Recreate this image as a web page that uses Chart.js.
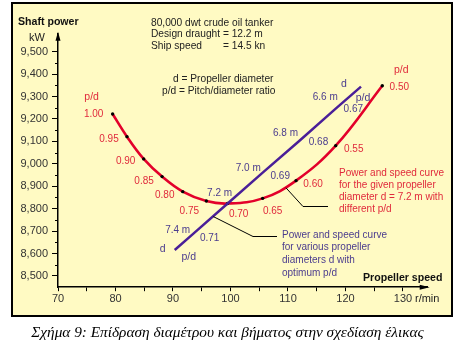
<!DOCTYPE html>
<html>
<head>
<meta charset="utf-8">
<script src="https://cdn.jsdelivr.net/npm/chart.js@4.4.1/dist/chart.umd.min.js"></script>
<style>
  body { margin: 0; width: 462px; height: 354px; background: #fff; position: relative; overflow: hidden; }
  #panel { position: absolute; left: 11px; top: 2px; width: 438px; height: 311px; border: 2px solid #000; background: #fffac3; }
  #chart { position: absolute; left: 0; top: 0; }
  #caption { position: absolute; left: 0; top: 323px; width: 455px; text-align: center;
             font: italic 15.3px "Liberation Serif", "Times New Roman", serif; color: #000; }
</style>
</head>
<body>
<div id="panel"></div>
<canvas id="chart" width="462" height="354"></canvas>
<div id="caption">Σχήμα 9: Επίδραση διαμέτρου και βήματος στην σχεδίαση έλικας</div>
<script>
// red curve: given diameter d = 7.2 m, varying p/d
const speedGivenD = [79.5, 82.0, 84.9, 88.1, 91.7, 95.8, 99.5, 105.6, 111.4, 118.3, 126.4];
const powerGivenD = [9222, 9121, 9022, 8943, 8876, 8834, 8823, 8846, 8925, 9081, 9348];
const pitchLabels = ['1.00', '0.95', '0.90', '0.85', '0.80', '0.75', '0.70', '0.65', '0.60', '0.55', '0.50'];

// blue line: various diameters with optimum p/d
const speedOptimum = [90.3, 93.6, 99.5, 105.7, 112.0, 118.4, 122.7];
const powerOptimum = [8616, 8690, 8823, 8963, 9103, 9248, 9344];
const diameterLabels = ['d', '7.4 m', '7.2 m', '7.0 m', '6.8 m', '6.6 m', 'd'];
const optPitchLabels = ['p/d', '0.71', '', '0.69', '0.68', '0.67', 'p/d'];

// axes
const xTickValues = [70, 75, 80, 85, 90, 95, 100, 105, 110, 115, 120, 125, 130];
const yTickValues = [8500, 8600, 8700, 8800, 8900, 9000, 9100, 9200, 9300, 9400, 9500];
const yMinorValues = [8550, 8650, 8750, 8850, 8950, 9050, 9150, 9250, 9350, 9450];

// label placement (pixel offsets from their point)
const pitchOffsets = [[-19, 0], [-18, 3], [-18, 2], [-18, 5], [-18, 4], [-17, 10], [11, 11], [10, 13], [17, 4], [18, 4], [17, 2]];
const diameterOffsets = [[-12, -1], [-16, -3], [-8, -10], [-15, -4], [-14, -7], [-11, -11], [-17, -3]];
const optPitchOffsets = [[14, 7], [16, 5], [0, 0], [17, 4], [19, 2], [17, 1], [2, 11]];

const RED = '#e3002b';
const RED_TEXT = '#e02a3c';
const BLUE = '#4a1f98';
const BLUE_TEXT = '#4b3c8e';
const FONT = '"Liberation Sans", Arial, sans-serif';

const overlay = {
    id: 'overlay',
    afterDraw(chart) {
        const ctx = chart.ctx;
        const x = chart.scales.x;
        const y = chart.scales.y;
        const a = chart.chartArea;
        ctx.save();

        //minor y ticks
        ctx.strokeStyle = '#000';
        ctx.lineWidth = 1;
        yMinorValues.forEach(v => {
            const py = Math.round(y.getPixelForValue(v)) + 0.5;
            ctx.beginPath();
            ctx.moveTo(a.left - 3, py);
            ctx.lineTo(a.left, py);
            ctx.stroke();
        });

        //axis arrows
        ctx.fillStyle = '#000';
        ctx.beginPath();
        ctx.moveTo(a.left, a.top - 2);
        ctx.lineTo(a.left - 2.5, a.top + 7);
        ctx.lineTo(a.left + 2.5, a.top + 7);
        ctx.fill();
        ctx.beginPath();
        ctx.moveTo(a.right + 2, a.bottom);
        ctx.lineTo(a.right - 8, a.bottom - 2.5);
        ctx.lineTo(a.right - 8, a.bottom + 2.5);
        ctx.fill();

        ctx.textBaseline = 'middle';

        //p/d labels on red curve
        const red = chart.getDatasetMeta(1).data;
        ctx.font = '10px ' + FONT;
        ctx.fillStyle = RED_TEXT;
        ctx.textAlign = 'center';
        red.forEach((pt, i) => {
            ctx.fillText(pitchLabels[i], pt.x + pitchOffsets[i][0], pt.y + pitchOffsets[i][1]);
        });
        ctx.font = '10.5px ' + FONT;
        ctx.fillText('p/d', red[0].x - 21, red[0].y - 17);
        ctx.fillText('p/d', red[10].x + 19, red[10].y - 16);

        //d and p/d labels on blue line
        const blue = chart.getDatasetMeta(0).data;
        ctx.fillStyle = BLUE_TEXT;
        blue.forEach((pt, i) => {
            ctx.font = (i === 0 || i === 6 ? '10.5px ' : '10px ') + FONT;
            ctx.fillText(diameterLabels[i], pt.x + diameterOffsets[i][0], pt.y + diameterOffsets[i][1]);
            if (optPitchLabels[i]) {
                ctx.fillText(optPitchLabels[i], pt.x + optPitchOffsets[i][0], pt.y + optPitchOffsets[i][1]);
            }
        });

        //leader lines
        ctx.strokeStyle = '#000';
        ctx.lineWidth = 1;
        const rx = x.getPixelForValue(109.65), ry = y.getPixelForValue(8893);
        ctx.beginPath();
        ctx.moveTo(rx, ry);
        ctx.lineTo(303, 206.5);
        ctx.lineTo(328, 206.5);
        ctx.stroke();
        const bx = x.getPixelForValue(97.0), by = y.getPixelForValue(8765);
        ctx.beginPath();
        ctx.moveTo(bx, by);
        ctx.lineTo(253, 236.5);
        ctx.lineTo(277, 236.5);
        ctx.stroke();

        //text blocks
        ctx.textAlign = 'left';
        ctx.font = '10px ' + FONT;
        ctx.fillStyle = RED_TEXT;
        ['Power and speed curve', 'for the given propeller', 'diameter d = 7.2 m with', 'different p/d']
            .forEach((t, i) => ctx.fillText(t, 339, 173 + i * 12.2));
        ctx.fillStyle = BLUE_TEXT;
        ['Power and speed curve', 'for various propeller', 'diameters d with', 'optimum p/d']
            .forEach((t, i) => ctx.fillText(t, 282, 235 + i * 12.6));

        ctx.fillStyle = '#222';
        ctx.font = '10.2px ' + FONT;
        ctx.fillText('80,000 dwt crude oil tanker', 151, 23);
        ctx.fillText('Design draught = 12.2 m', 151, 34.5);
        ctx.fillText('Ship speed', 151, 46.5);
        ctx.fillText('= 14.5 kn', 223, 46.5);
        ctx.fillText('d = Propeller diameter', 173, 79.5);
        ctx.fillText('p/d = Pitch/diameter ratio', 162, 91);
        ctx.font = '11px ' + FONT;
        ctx.fillText('kW', 29, 37.5);
        ctx.fillText('r/min', x.getPixelForValue(130) + 12, 298.5);

        ctx.font = 'bold 10.6px ' + FONT;
        ctx.fillStyle = '#111';
        ctx.fillText('Shaft power', 18, 22);
        ctx.fillText('Propeller speed', 363, 278);

        ctx.restore();
    }
};

new Chart(document.getElementById('chart'), {
    type: 'line',
    data: {
        datasets: [{
            label: 'Optimum p/d',
            data: speedOptimum.map((v, i) => ({ x: v, y: powerOptimum[i] })),
            borderColor: BLUE,
            borderWidth: 2.5,
            pointRadius: 0,
            tension: 0
        }, {
            label: 'd = 7.2 m',
            data: speedGivenD.map((v, i) => ({ x: v, y: powerGivenD[i] })),
            borderColor: RED,
            borderWidth: 2.6,
            pointRadius: 1.7,
            pointBorderWidth: 0,
            pointBackgroundColor: '#000',
            tension: 0.4
        }]
    },
    options: {
        responsive: false,
        animation: false,
        devicePixelRatio: 1,
        layout: { padding: { left: 0, top: 33.7, right: 34.3, bottom: 42.8 } },
        plugins: { legend: { display: false }, tooltip: { enabled: false } },
        scales: {
            x: {
                type: 'linear',
                min: 70,
                max: 134.3,
                afterBuildTicks: s => { s.ticks = xTickValues.map(v => ({ value: v })); },
                afterFit: s => { s.height = 24; },
                ticks: {
                    autoSkip: false,
                    maxRotation: 0,
                    padding: 1,
                    color: '#333',
                    font: { family: FONT, size: 11 },
                    callback: v => (v % 10 === 0 ? String(v) : '')
                },
                grid: { drawOnChartArea: false, tickLength: 4, color: '#000' },
                border: { color: '#000', width: 1.5 }
            },
            y: {
                type: 'linear',
                min: 8450,
                max: 9580,
                afterBuildTicks: s => { s.ticks = yTickValues.map(v => ({ value: v })); },
                afterFit: s => { s.width = 58; },
                ticks: {
                    padding: 4,
                    color: '#333',
                    font: { family: FONT, size: 11 },
                    callback: v => v.toLocaleString('en-US')
                },
                grid: { drawOnChartArea: false, tickLength: 6, color: '#000' },
                border: { color: '#000', width: 1.5 }
            }
        }
    },
    plugins: [overlay]
});
</script>
</body>
</html>
